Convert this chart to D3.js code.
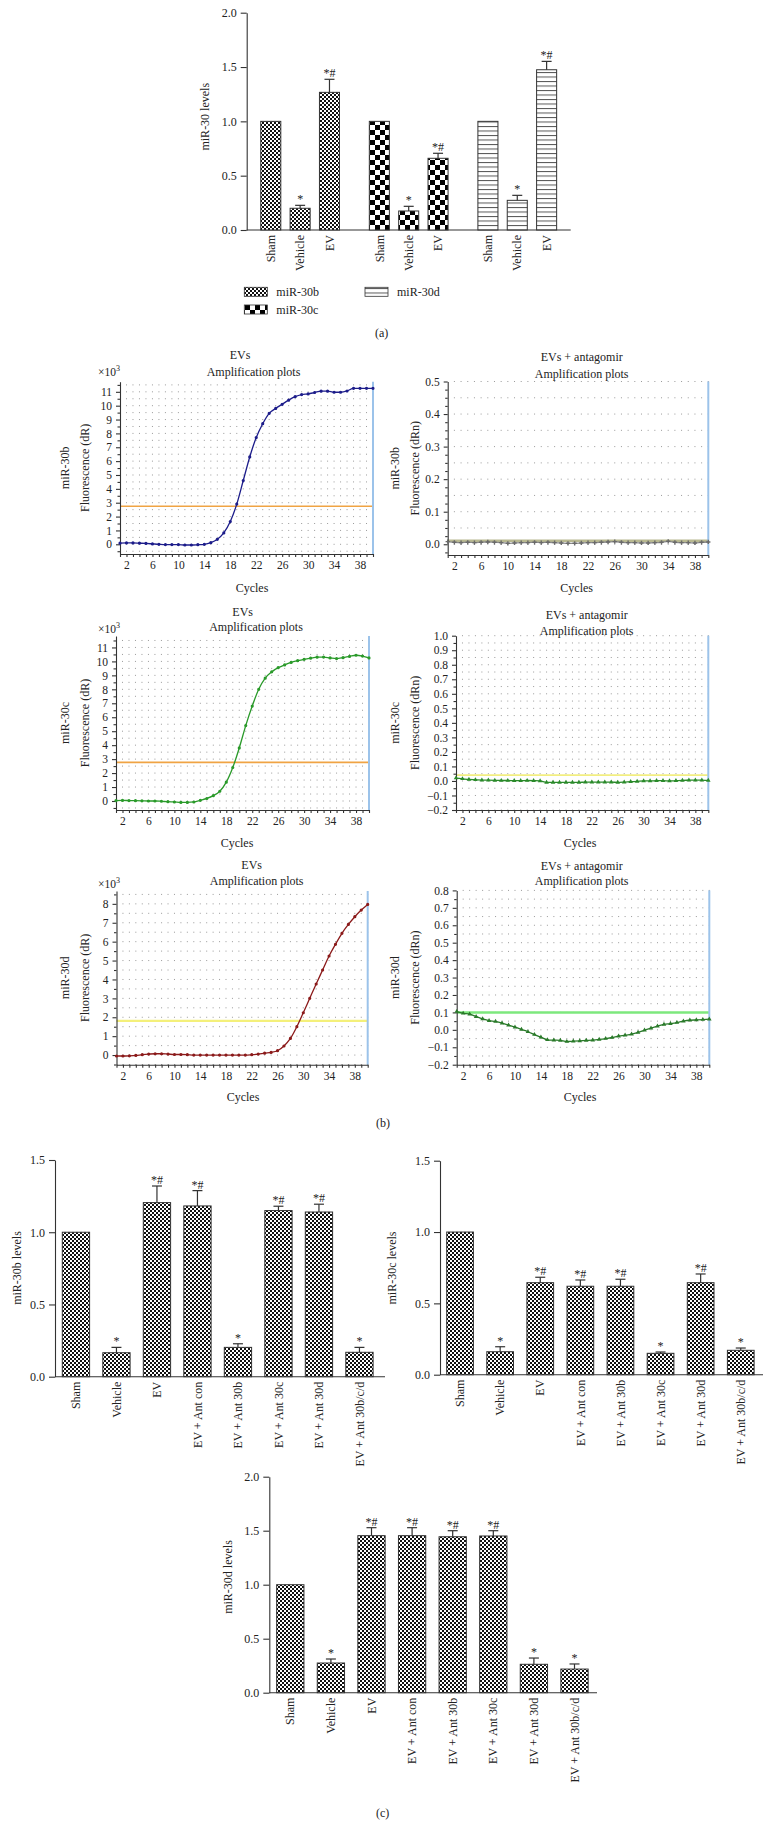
<!DOCTYPE html>
<html><head><meta charset="utf-8">
<script src="https://cdn.jsdelivr.net/npm/d3@7"></script>
<style>
body{margin:0;background:#fff;}
svg{display:block;font-family:"Liberation Serif","DejaVu Serif",serif;}
</style></head>
<body>
<script>
// ---------------- DATA ----------------
// Panel (a)
const groupsA = ["miR-30b","miR-30c","miR-30d"];
const condA = ["Sham","Vehicle","EV"];
const meanA30b = [1.0, 0.20, 1.267];
const errA30b  = [0, 0.027, 0.12];
const meanA30c = [1.0, 0.175, 0.66];
const errA30c  = [0, 0.043, 0.046];
const meanA30d = [1.0, 0.273, 1.475];
const errA30d  = [0, 0.046, 0.077];
const sigA = ["", "*", "*#"];
const ticksA = [0, 0.5, 1.0, 1.5, 2.0];

// Panel (b) amplification plots
const cycles = [1,2,3,4,5,6,7,8,9,10,11,12,13,14,15,16,17,18,19,20,21,22,23,24,25,26,27,28,29,30,31,32,33,34,35,36,37,38,39,40];
const cycleTicks = [2,6,10,14,18,22,26,30,34,38];
const amp30b = [0.08,0.1,0.1,0.08,0.06,0.03,0.0,-0.02,-0.02,-0.02,-0.05,-0.05,-0.03,0.0,0.12,0.36,0.82,1.64,2.9,4.6,6.3,7.7,8.7,9.45,9.8,10.1,10.4,10.65,10.8,10.85,10.95,11.05,11.05,10.97,10.97,11.06,11.25,11.25,11.25,11.25];
const amp30bAnt = [0.008,0.006,0.005,0.006,0.005,0.006,0.007,0.006,0.005,0.003,0.004,0.005,0.005,0.006,0.005,0.006,0.005,0.004,0.003,0.003,0.004,0.005,0.005,0.006,0.007,0.008,0.006,0.005,0.005,0.004,0.004,0.005,0.006,0.009,0.006,0.005,0.005,0.004,0.006,0.007];
const amp30c = [0.03,0.04,0.03,0.02,0.01,0.0,0.0,-0.02,-0.05,-0.07,-0.1,-0.1,-0.07,0.05,0.18,0.38,0.7,1.35,2.4,3.8,5.4,6.8,8.0,8.8,9.25,9.55,9.75,9.93,10.05,10.15,10.23,10.3,10.31,10.25,10.2,10.27,10.36,10.44,10.38,10.25];
const amp30cAnt = [0.02,0.015,0.01,0.008,0.006,0.005,0.004,0.003,0.003,0.002,0.002,0.003,0.002,0.0,-0.01,-0.01,-0.01,-0.01,-0.01,-0.01,-0.008,-0.008,-0.008,-0.008,-0.008,-0.01,-0.008,-0.005,-0.003,0.0,0.0,0.002,0.002,0.0,0.002,0.004,0.005,0.006,0.005,0.004];
const amp30d = [-0.05,-0.05,-0.04,-0.02,0.02,0.05,0.07,0.07,0.05,0.03,0.03,0.02,0.0,0.0,0.0,0.0,0.0,0.0,0.0,0.0,0.0,0.02,0.05,0.1,0.14,0.23,0.48,0.88,1.5,2.24,3.0,3.76,4.5,5.24,5.86,6.44,6.91,7.32,7.67,7.97];
const amp30dAnt = [0.105,0.095,0.09,0.076,0.063,0.053,0.048,0.038,0.027,0.015,0.002,-0.011,-0.027,-0.042,-0.057,-0.059,-0.061,-0.067,-0.065,-0.063,-0.061,-0.059,-0.055,-0.05,-0.044,-0.036,-0.031,-0.025,-0.015,-0.002,0.01,0.021,0.031,0.036,0.042,0.05,0.055,0.057,0.059,0.061];
const thr30b = 2.75, thr30bAnt = 0.011, thr30c = 2.77, thr30cAnt = 0.04, thr30d = 1.81, thr30dAnt = 0.1;
const yTicksEV30b = [0,1,2,3,4,5,6,7,8,9,10,11];
const yTicksEV30c = [0,1,2,3,4,5,6,7,8,9,10,11];
const yTicksEV30d = [0,1,2,3,4,5,6,7,8];
const yTicksAnt30b = [0.0,0.1,0.2,0.3,0.4,0.5];
const yTicksAnt30c = [-0.2,-0.1,0.0,0.1,0.2,0.3,0.4,0.5,0.6,0.7,0.8,0.9,1.0];
const yTicksAnt30d = [-0.2,-0.1,0.0,0.1,0.2,0.3,0.4,0.5,0.6,0.7,0.8];

// Panel (c)
const condC = ["Sham","Vehicle","EV","EV + Ant con","EV + Ant 30b","EV + Ant 30c","EV + Ant 30d","EV + Ant 30b/c/d"];
const meanC30b = [1.0,0.166,1.205,1.182,0.203,1.15,1.14,0.169];
const errC30b  = [0,0.037,0.115,0.106,0.025,0.03,0.054,0.034];
const sigC30b  = ["","*","*#","*#","*","*#","*#","*"];
const meanC30c = [1.0,0.161,0.645,0.62,0.62,0.15,0.645,0.171];
const errC30c  = [0,0.035,0.038,0.044,0.049,0.009,0.061,0.016];
const sigC30c  = ["","*","*#","*#","*#","*","*#","*"];
const meanC30d = [1.0,0.275,1.454,1.454,1.444,1.451,0.263,0.219];
const errC30d  = [0,0.037,0.074,0.074,0.056,0.049,0.058,0.047];
const sigC30d  = ["","*","*#","*#","*#","*#","*","*"];
const ticksC15 = [0,0.5,1.0,1.5];
const ticksC20 = [0,0.5,1.0,1.5,2.0];

// ---------------- DRAW ----------------
const W = 769, H = 1838;
const svg = d3.select("body").append("svg").attr("width", W).attr("height", H);
const defs = svg.append("defs");
function pat(id, w, h, build){
  const p = defs.append("pattern").attr("id", id).attr("patternUnits","userSpaceOnUse").attr("width", w).attr("height", h);
  p.append("rect").attr("width", w).attr("height", h).attr("fill", "#fff");
  build(p);
}
pat("pFine", 4, 4, p => { p.append("rect").attr("width",2).attr("height",2).attr("fill","#111");
  p.append("rect").attr("x",2).attr("y",2).attr("width",2).attr("height",2).attr("fill","#111"); });
pat("pCoarse", 10, 10, p => { p.append("rect").attr("width",5).attr("height",5).attr("fill","#000");
  p.append("rect").attr("x",5).attr("y",5).attr("width",5).attr("height",5).attr("fill","#000"); });
pat("pLines", 4.5, 4.5, p => { p.append("rect").attr("y",0).attr("width",4.5).attr("height",1).attr("fill","#555"); });

const AX = "#333";
const fmt1 = d3.format(".1f");

function styleAxis(g, fs){
  g.selectAll("path.domain").attr("stroke", AX).attr("stroke-width", 1.1);
  g.selectAll(".tick line").attr("stroke", AX).attr("stroke-width", 1.1);
  g.selectAll(".tick text").attr("fill", "#222").attr("font-size", fs || 12).attr("font-family", null);
  g.attr("font-family", null);
}
function text(x, y, s, opts){
  opts = opts || {};
  const t = svg.append("text").attr("x", x).attr("y", y).attr("dy","0.35em")
    .attr("text-anchor", opts.anchor || "middle").attr("font-size", opts.size || 12).attr("fill", "#222").text(s);
  if (opts.rot) t.attr("transform", `rotate(-90,${x},${y})`);
  return t;
}

// bar drawing helper
function drawBars(xPos, bw, yScale, means, errs, sigs, fill){
  means.forEach((m, i) => {
    const x0 = xPos(i);
    svg.append("rect").attr("x", x0).attr("y", yScale(m)).attr("width", bw).attr("height", yScale(0) - yScale(m))
      .attr("fill", `url(#${fill})`).attr("stroke", "#333").attr("stroke-width", 1);
    const cx = x0 + bw/2;
    if (errs[i] > 0){
      const yt = yScale(m + errs[i]);
      svg.append("line").attr("x1",cx).attr("x2",cx).attr("y1",yScale(m)).attr("y2",yt).attr("stroke","#333").attr("stroke-width",1.2);
      svg.append("line").attr("x1",cx-5).attr("x2",cx+5).attr("y1",yt).attr("y2",yt).attr("stroke","#333").attr("stroke-width",1.2);
    }
    if (sigs[i]){
      svg.append("text").attr("x", cx).attr("y", yScale(m + errs[i]) - 2).attr("text-anchor","middle")
        .attr("font-size", 12).attr("fill","#222").text(sigs[i].split("").join(" ").replace("* #","*#"));
    }
  });
}

// ---- Panel (a)
{
  const yA = d3.scaleLinear().domain([0, 2]).range([230, 12.7]);
  const xG = d3.scaleBand().domain(groupsA).range([246.7, 570.7]).paddingInner(0.189).paddingOuter(0.0866);
  const xC = d3.scaleBand().domain(condA).range([0, xG.bandwidth()]).paddingInner(0.317).paddingOuter(0.1585);
  const gy = svg.append("g").attr("transform","translate(246.7,0)")
    .call(d3.axisLeft(yA).tickValues(ticksA).tickFormat(fmt1).tickSize(6).tickSizeOuter(0).tickPadding(4));
  styleAxis(gy, 12);
  svg.append("line").attr("x1",246.7).attr("x2",570.7).attr("y1",230).attr("y2",230).attr("stroke",AX).attr("stroke-width",1.1);
  const sets = [[meanA30b, errA30b, "pFine"], [meanA30c, errA30c, "pCoarse"], [meanA30d, errA30d, "pLines"]];
  groupsA.forEach((g, gi) => {
    const [m, e, f] = sets[gi];
    drawBars(i => xG(g) + xC(condA[i]), xC.bandwidth(), yA, m, e, sigA, f);
    condA.forEach(c => {
      const cx = xG(g) + xC(c) + xC.bandwidth()/2;
      text(cx, 235, c, {anchor:"end", rot:true});
    });
  });
  text(205, 116.7, "miR-30 levels", {rot:true});
  // legend
  const leg = [["pFine", 244.3, 287.3, groupsA[0]], ["pCoarse", 244.3, 305, groupsA[1]], ["pLines", 365, 287.3, groupsA[2]]];
  leg.forEach(([f, x, y, s]) => {
    svg.append("rect").attr("x", x).attr("y", y).attr("width", 23).attr("height", 9).attr("fill", `url(#${f})`).attr("stroke","#333").attr("stroke-width",0.8);
    text(x + 32, y + 4.5, s, {anchor:"start"});
  });
  text(381.7, 333, "(a)");
}

// ---- Panel (b)
function amp(o){
  const x = d3.scaleLinear().domain([1, 40]).range([o.left, o.right]);
  const y = d3.scaleLinear().domain(o.yDom).range([o.bottom, o.top]);
  const g = svg.append("g");
  // dot grid
  const rows = [];
  for (let k = Math.ceil(o.yDom[0] / o.rowStep - 1e-6); k * o.rowStep <= o.yDom[1] + 1e-6; k++) rows.push(k * o.rowStep);
  const dots = [];
  cycles.forEach(c => rows.forEach(r => { if (c > 1) dots.push([x(c), y(r)]); }));
  g.selectAll("rect.dot").data(dots).join("rect").attr("class","dot")
    .attr("x", d => d[0]-0.5).attr("y", d => d[1]-0.5).attr("width",1).attr("height",1).attr("fill","#9a9a9a");
  // threshold
  g.append("line").attr("x1", o.left).attr("x2", o.right).attr("y1", y(o.thr)).attr("y2", y(o.thr))
    .attr("stroke", o.thrColor).attr("stroke-width", o.thrWidth);
  // right blue line
  g.append("line").attr("x1", o.right).attr("x2", o.right).attr("y1", o.top).attr("y2", o.bottom)
    .attr("stroke", "#9cc3ea").attr("stroke-width", 2);
  // axes
  const gx = g.append("g").attr("transform", `translate(0,${o.bottom})`)
    .call(d3.axisBottom(x).tickValues(cycles).tickFormat(d => cycleTicks.includes(d) ? d : "").tickSize(3).tickSizeOuter(0).tickPadding(4));
  styleAxis(gx, 11.5);
  const minor = [];
  for (let k = Math.ceil(o.yDom[0] / o.minorStep - 1e-6); k * o.minorStep <= o.yDom[1] + 1e-6; k++) minor.push(+(k * o.minorStep).toFixed(4));
  const isMajor = v => o.yTicks.some(t => Math.abs(t - v) < 1e-6);
  const gy = g.append("g").attr("transform", `translate(${o.left},0)`)
    .call(d3.axisLeft(y).tickValues(minor).tickFormat(v => isMajor(v) ? o.fmt(v) : "").tickSize(4).tickSizeOuter(0).tickPadding(4));
  styleAxis(gy, 11.5);
  gy.selectAll(".tick line").attr("x2", v => isMajor(v) ? -4 : -2.5);
  // curve
  const line = d3.line().x((d, i) => x(cycles[i])).y(d => y(d)).curve(d3.curveMonotoneX);
  g.append("path").datum(o.data).attr("d", line).attr("fill","none").attr("stroke", o.color).attr("stroke-width", 1.3);
  const sym = o.marker === "cross" ? d3.symbol(d3.symbolCross, 10) : o.marker === "tri" ? d3.symbol(d3.symbolTriangle, 9) : d3.symbol(d3.symbolCircle, 8);
  g.selectAll("path.mk").data(o.data).join("path").attr("class","mk")
    .attr("transform", (d, i) => `translate(${x(cycles[i])},${y(d)})`).attr("d", sym).attr("fill", o.mcolor || o.color);
  // labels
  text(o.t1[0], o.t1[1], o.t1[2]);
  text(o.t2[0], o.t2[1], "Amplification plots");
  text(o.cyc[0], o.cyc[1], "Cycles");
  const cy = (o.top + o.bottom) / 2;
  text(o.yl[0], cy, o.yl[2], {rot:true});
  text(o.yl[1], cy, o.yl[3], {rot:true});
  if (o.exp){
    const t = svg.append("text").attr("x", o.exp[0]).attr("y", o.exp[1]).attr("dy","0.35em").attr("font-size", 11.5).attr("fill","#222");
    t.append("tspan").text("×10");
    t.append("tspan").attr("font-size", 8).attr("dy", -5).text("3");
  }
}
const fInt = d => String(d);
amp({left:120, right:373, top:381.7, bottom:554, yDom:[-0.7, 11.73], rowStep:0.5, minorStep:0.5, yTicks:yTicksEV30b, fmt:fInt,
  data:amp30b, color:"#1c1c8a", marker:"circle", thr:thr30b, thrColor:"#f0a444", thrWidth:1.6,
  t1:[240,355,"EVs"], t2:[253.5,371.7], cyc:[252,588], yl:[65,85,"miR-30b","Fluorescence (dR)"], exp:[98,372]});
amp({left:447.7, right:708.3, top:381.5, bottom:555, yDom:[-0.033, 0.5], rowStep:0.05, minorStep:0.025, yTicks:yTicksAnt30b, fmt:fmt1,
  data:amp30bAnt, color:"#8a8a8a", mcolor:"#6a6a6a", marker:"cross", thr:thr30bAnt, thrColor:"#b8b890", thrWidth:2.5,
  t1:[581.7,356.7,"EVs + antagomir"], t2:[581.7,373.3], cyc:[576.7,588], yl:[395,415,"miR-30b","Fluorescence (dRn)"]});
amp({left:116, right:369, top:636, bottom:810, yDom:[-0.645, 11.82], rowStep:0.5, minorStep:0.5, yTicks:yTicksEV30c, fmt:fInt,
  data:amp30c, color:"#2a9a2a", marker:"circle", thr:thr30c, thrColor:"#f0a444", thrWidth:1.6,
  t1:[242.7,611.7,"EVs"], t2:[256,627], cyc:[237,842.7], yl:[65,85,"miR-30c","Fluorescence (dR)"], exp:[98,629]});
amp({left:456, right:708.3, top:635.7, bottom:810, yDom:[-0.2, 1.0], rowStep:0.05, minorStep:0.05, yTicks:yTicksAnt30c, fmt:fmt1,
  data:amp30cAnt, color:"#2a8a2a", marker:"tri", thr:thr30cAnt, thrColor:"#f2ee80", thrWidth:1.6,
  t1:[586.7,614.3,"EVs + antagomir"], t2:[586.7,630.7], cyc:[580,842.7], yl:[395,415,"miR-30c","Fluorescence (dRn)"]});
amp({left:116.5, right:367.7, top:891, bottom:1064.7, yDom:[-0.51, 8.68], rowStep:0.5, minorStep:0.5, yTicks:yTicksEV30d, fmt:fInt,
  data:amp30d, color:"#8b1a1a", marker:"circle", thr:thr30d, thrColor:"#f4f07a", thrWidth:2.2,
  t1:[251.7,865,"EVs"], t2:[256.7,881], cyc:[243,1096.7], yl:[65,85,"miR-30d","Fluorescence (dR)"], exp:[98,884]});
amp({left:456.7, right:709.3, top:890.4, bottom:1064.7, yDom:[-0.2, 0.8], rowStep:0.05, minorStep:0.05, yTicks:yTicksAnt30d, fmt:fmt1,
  data:amp30dAnt, color:"#2a7a2a", marker:"tri", thr:thr30dAnt, thrColor:"#7de87d", thrWidth:2.5,
  t1:[581.7,866,"EVs + antagomir"], t2:[581.7,881], cyc:[580,1096.7], yl:[395,415,"miR-30d","Fluorescence (dRn)"]});
text(383, 1122.7, "(b)");

// ---- Panel (c)
function barC(o){
  const y = d3.scaleLinear().domain([0, o.yMax]).range([o.y0, o.yTop]);
  const x = d3.scaleBand().domain(condC).range(o.range).paddingInner(o.pad).paddingOuter(o.pad/2);
  const gy = svg.append("g").attr("transform", `translate(${o.ax},0)`)
    .call(d3.axisLeft(y).tickValues(o.ticks).tickFormat(fmt1).tickSize(6).tickSizeOuter(0).tickPadding(4));
  styleAxis(gy, 12);
  svg.append("line").attr("x1", o.ax).attr("x2", o.axEnd).attr("y1", o.y0).attr("y2", o.y0).attr("stroke", AX).attr("stroke-width", 1.1);
  drawBars(i => x(condC[i]), x.bandwidth(), y, o.means, o.errs, o.sigs, "pFine");
  condC.forEach(c => text(x(c) + x.bandwidth()/2, o.y0 + 5, c, {anchor:"end", rot:true}));
  text(o.yl[0], o.yl[1], o.yl[2], {rot:true});
}
barC({ax:55, axEnd:385, y0:1376.7, yTop:1160, yMax:1.5, ticks:ticksC15, range:[55.7, 379.7], pad:0.326,
  means:meanC30b, errs:errC30b, sigs:sigC30b, yl:[17, 1268, "miR-30b levels"]});
barC({ax:440, axEnd:763, y0:1374.7, yTop:1160.7, yMax:1.5, ticks:ticksC15, range:[440, 760.8], pad:0.334,
  means:meanC30c, errs:errC30c, sigs:sigC30c, yl:[392, 1268, "miR-30c levels"]});
barC({ax:269.3, axEnd:597, y0:1692.7, yTop:1476.7, yMax:2.0, ticks:ticksC20, range:[270, 594.8], pad:0.328,
  means:meanC30d, errs:errC30d, sigs:sigC30d, yl:[228.3, 1577, "miR-30d levels"]});
text(382.7, 1813, "(c)");
</script>
</body></html>
